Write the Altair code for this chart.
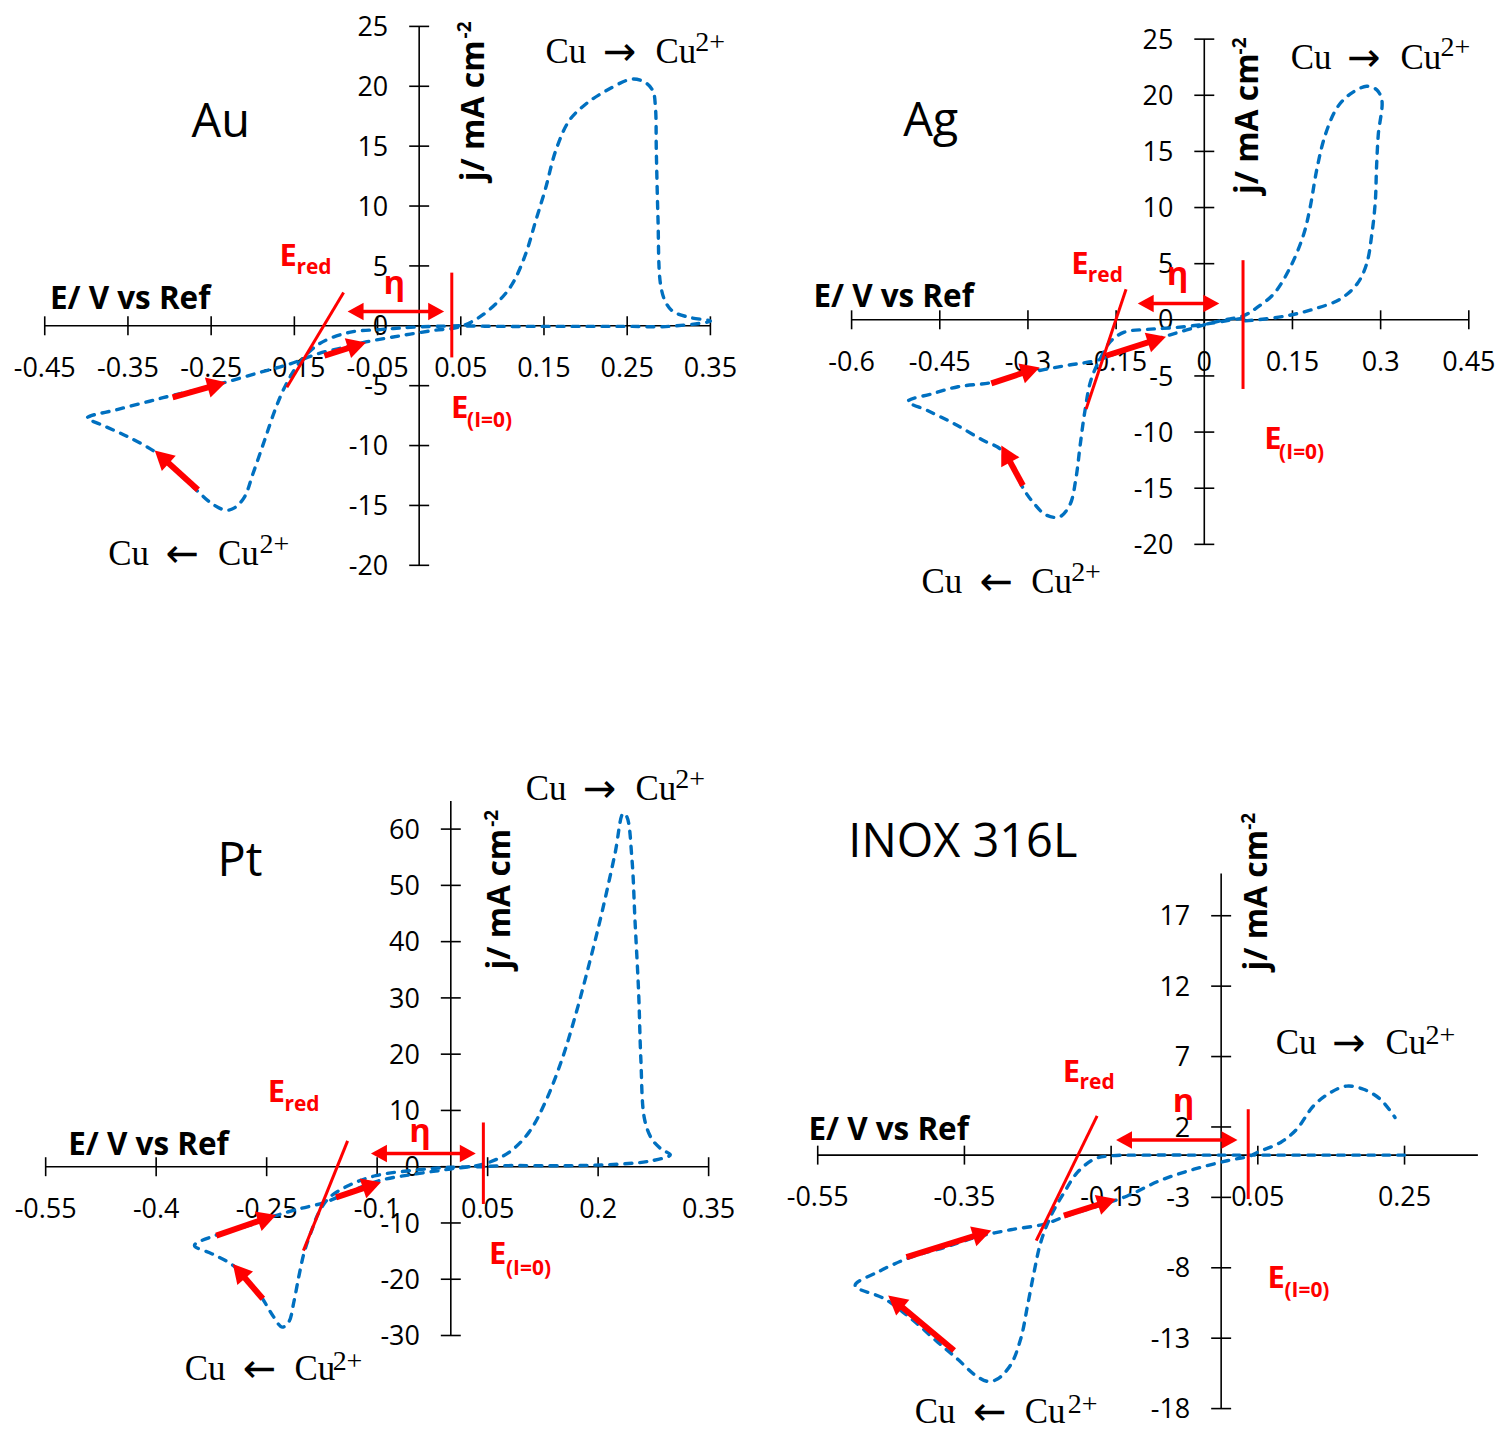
import math
import altair as alt
import pandas as pd

# ---------------- data ----------------
# Au
AU_E = [0.048, -0.004, -0.044, -0.084, -0.120, -0.144, -0.160, -0.172, -0.186, -0.200, -0.210, -0.222, -0.232, -0.248, -0.268, -0.292, -0.316, -0.352, -0.384, -0.399,
        -0.363, -0.324, -0.296, -0.264, -0.232, -0.192, -0.156, -0.120, -0.084, -0.064, -0.024, 0.016, 0.048,
        0.072, 0.096, 0.112, 0.128, 0.140, 0.152, 0.164, 0.180, 0.200, 0.224, 0.256, 0.272, 0.281, 0.284, 0.285, 0.287, 0.290, 0.296, 0.305, 0.325, 0.350,
        0.300, 0.250, 0.200, 0.150, 0.100, 0.048]
AU_J = [0.0, -0.1, -0.3, -0.55, -1.5, -3.1, -4.9, -6.8, -9.6, -12.4, -14.3, -15.2, -15.4, -14.9, -13.7, -12.1, -10.6, -9.2, -8.2, -7.7,
        -7.0, -6.3, -5.8, -5.3, -4.7, -3.9, -3.2, -2.3, -1.7, -1.35, -0.85, -0.4, -0.1,
        0.7, 2.1, 3.5, 6.0, 8.75, 11.5, 14.6, 17.1, 18.5, 19.6, 20.6, 20.3, 19.6, 18.2, 14.6, 9.0, 3.5, 2.0, 1.2, 0.7, 0.4,
        -0.05, -0.05, -0.05, -0.05, -0.05, 0.0]
# Ag
AG_E = [0.067, 0.030, 0.000, -0.051, -0.097, -0.136, -0.159, -0.176, -0.193, -0.203, -0.211, -0.218, -0.228, -0.244, -0.255, -0.272, -0.289, -0.306, -0.323, -0.340, -0.351, -0.374, -0.424, -0.470, -0.504,
        -0.464, -0.419, -0.363, -0.306, -0.238, -0.182, -0.125, -0.068, -0.030, 0.000, 0.030, 0.067, 0.090, 0.118, 0.146, 0.169, 0.180, 0.192, 0.206, 0.226, 0.248, 0.276, 0.293, 0.302, 0.296, 0.293, 0.291, 0.285, 0.276, 0.260, 0.231, 0.186, 0.141, 0.090, 0.067]
AG_J = [0.15, -0.15, -0.4, -0.7, -0.85, -1.1, -1.9, -3.35, -5.4, -8.1, -11.1, -14.0, -16.4, -17.5, -17.6, -17.3, -16.4, -15.2, -13.4, -11.9, -11.35, -10.8, -9.3, -8.1, -7.26,
        -6.6, -5.96, -5.6, -4.8, -4.1, -3.6, -2.46, -1.5, -0.9, -0.45, -0.05, 0.36, 1.1, 2.3, 4.65, 7.6, 10.0, 13.55, 16.5, 18.9, 20.1, 20.8, 20.5, 19.6, 16.5, 13.55, 10.6, 7.6, 4.95, 3.2, 1.84, 0.95, 0.36, 0.0, -0.1]
# Pt
PT_E = [0.045, 0.000, -0.048, -0.102, -0.138, -0.165, -0.179, -0.188, -0.199, -0.206, -0.213, -0.220, -0.229, -0.242, -0.256, -0.275, -0.296, -0.324, -0.348,
        -0.319, -0.274, -0.238, -0.206, -0.170, -0.138, -0.098, -0.048, 0.000, 0.045,
        0.079, 0.106, 0.128, 0.151, 0.169, 0.187, 0.205, 0.223, 0.234, 0.239, 0.246, 0.250, 0.255, 0.258, 0.263, 0.273, 0.286, 0.298,
        0.273, 0.232, 0.160, 0.070, 0.045]
PT_J = [0.0, -0.1, -0.6, -1.6, -3.3, -5.5, -8.1, -11.0, -15.2, -19.3, -24.0, -27.6, -28.5, -26.4, -23.4, -20.3, -17.5, -15.5, -14.0,
        -12.2, -10.45, -8.7, -7.5, -6.3, -4.5, -2.5, -1.3, -0.4, 0.48,
        2.55, 6.1, 11.4, 19.1, 26.8, 35.6, 45.1, 55.7, 62.8, 62.2, 54.5, 43.9, 30.9, 19.1, 8.45, 4.9, 3.1, 2.1,
        1.06, 0.48, 0.18, 0.18, 0.0]
# INOX 316L
IN_E = [0.250, 0.150, 0.050, 0.036, -0.015, -0.105, -0.151, -0.173, -0.196, -0.214, -0.232, -0.246, -0.255, -0.264, -0.273, -0.287, -0.305, -0.318, -0.336, -0.359, -0.386, -0.423, -0.459, -0.499,
        -0.468, -0.423, -0.377, -0.332, -0.287, -0.241, -0.210, -0.173, -0.128, -0.083, -0.037, 0.008, 0.040,
        0.049, 0.081, 0.103, 0.126, 0.149, 0.171, 0.194, 0.217, 0.237]
IN_J = [0.0, 0.0, 0.0, 0.0, 0.0, 0.0, -0.05, -0.28, -1.23, -2.65, -4.3, -6.2, -8.3, -10.7, -13.0, -14.9, -15.9, -16.07, -15.6, -14.5, -13.3, -11.6, -10.2, -9.26,
        -8.3, -7.25, -6.55, -5.8, -5.3, -4.9, -4.3, -3.7, -2.9, -1.8, -1.0, -0.4, -0.05,
        0.19, 0.9, 1.84, 3.5, 4.44, 4.9, 4.68, 3.97, 2.67]

# axis ticks / labels
AU_XT = [-0.45, -0.35, -0.25, -0.15, -0.05, 0.05, 0.15, 0.25, 0.35]
AU_XL = ["-0.45", "-0.35", "-0.25", "-0.15", "-0.05", "0.05", "0.15", "0.25", "0.35"]
AU_YT = [25, 20, 15, 10, 5, 0, -5, -10, -15, -20]
AG_XT = [-0.6, -0.45, -0.3, -0.15, 0.0, 0.15, 0.3, 0.45]
AG_XL = ["-0.6", "-0.45", "-0.3", "-0.15", "0", "0.15", "0.3", "0.45"]
AG_YT = [25, 20, 15, 10, 5, 0, -5, -10, -15, -20]
PT_XT = [-0.55, -0.4, -0.25, -0.1, 0.05, 0.2, 0.35]
PT_XL = ["-0.55", "-0.4", "-0.25", "-0.1", "0.05", "0.2", "0.35"]
PT_YT = [60, 50, 40, 30, 20, 10, 0, -10, -20, -30]
IN_XT = [-0.55, -0.35, -0.15, 0.05, 0.25]
IN_XL = ["-0.55", "-0.35", "-0.15", "0.05", "0.25"]
IN_YT = [17, 12, 7, 2, -3, -8, -13, -18]

# axis extents [xmin, xmax, ymin, ymax]
AU_AX = [-0.45, 0.35, -20, 25]
AG_AX = [-0.6, 0.45, -20, 25]
PT_AX = [-0.55, 0.35, -30, 65]
IN_AX = [-0.55, 0.35, -18, 20]

# annotations (data units: E, j)
AU_ERED = [-0.0908, 2.78, -0.159, -5.14]
AU_EI0 = [0.0392, 4.44, 0.0392, -2.64]
AU_ETA = [-0.086, 0.030, 1.19]
AU_ARR = [[-0.2963, -5.97, -0.2322, -4.72], [-0.1139, -2.5, -0.0639, -1.39], [-0.2659, -13.69, -0.3178, -10.42]]
AG_ERED = [-0.1331, 2.73, -0.2010, -7.94]
AG_EI0 = [0.0659, 5.31, 0.0659, -6.16]
AG_ETA = [-0.1132, 0.0255, 1.45]
AG_ARR = [[-0.3623, -5.66, -0.2801, -4.24], [-0.1671, -3.2, -0.0652, -1.51], [-0.3085, -14.76, -0.3453, -11.2]]
PT_ERED = [-0.1401, 4.59, -0.2001, -14.92]
PT_EI0 = [0.0442, 7.86, 0.0442, -6.63]
PT_ETA = [-0.1084, 0.0339, 2.36]
PT_ARR = [[-0.3184, -12.26, -0.2371, -8.58], [-0.1558, -5.45, -0.0948, -2.78], [-0.2552, -23.48, -0.2959, -17.28]]
IN_ERED = [-0.1691, 2.79, -0.2521, -6.07]
IN_EI0 = [0.0369, 3.26, 0.0369, -3.12]
IN_ETA = [-0.1433, 0.0223, 1.08]
IN_ARR = [[-0.4290, -7.25, -0.3133, -5.36], [-0.2144, -4.30, -0.1433, -3.12], [-0.3641, -13.87, -0.4539, -9.97]]

# texts: (text, E, j)
AU_TXT = {
    "title": [("Au", -0.2735, 15.75)],
    "xtitle": [("E/ V vs Ref", -0.4438, 1.42)],
    "ytitle": [("j/ mA cm", 0.078, 12.08)],
    "ysup": [("-2", 0.062, 24.0)],
    "serif": [("Cu", 0.1517, 21.94), ("Cu", 0.2839, 21.94), ("Cu", -0.3738, -20.0), ("Cu", -0.2419, -20.0)],
    "arrowc": [("→", 0.2411, 21.94), ("←", -0.2849, -20.0)],
    "serifsup": [("2+", 0.3319, 22.92), ("2+", -0.1919, -19.0)],
    "redE": [("E", -0.1679, 5.0), ("E", 0.0384, -7.67)],
    "redsub": [("red", -0.1475, 4.33), ("(I=0)", 0.0576, -8.42)],
    "eta": [("η", -0.030, 2.67)],
}
AG_TXT = {
    "title": [("Ag", -0.5122, 16.36)],
    "xtitle": [("E/ V vs Ref", -0.665, 1.16)],
    "ytitle": [("j/ mA cm", 0.091, 11.2)],
    "ysup": [("-2", 0.071, 23.64)],
    "serif": [("Cu", 0.147, 22.31), ("Cu", 0.3338, 22.31), ("Cu", -0.4811, -24.36), ("Cu", -0.2944, -24.36)],
    "arrowc": [("→", 0.2716, 22.31), ("←", -0.3538, -24.36)],
    "serifsup": [("2+", 0.4017, 23.47), ("2+", -0.2265, -23.29)],
    "redE": [("E", -0.2265, 4.09), ("E", 0.1019, -11.47)],
    "redsub": [("red", -0.1981, 3.38), ("(I=0)", 0.1273, -12.36)],
    "eta": [("η", -0.0453, 3.11)],
}
PT_TXT = {
    "title": [("Pt", -0.3166, 51.7)],
    "xtitle": [("E/ V vs Ref", -0.5194, 2.06)],
    "ytitle": [("j/ mA cm", 0.0803, 35.05)],
    "ysup": [("-2", 0.064, 60.4)],
    "serif": [("Cu", 0.1016, 65.2), ("Cu", 0.2506, 65.2), ("Cu", -0.3613, -37.85), ("Cu", -0.2123, -37.85)],
    "arrowc": [("→", 0.2020, 65.2), ("←", -0.2597, -37.85)],
    "serifsup": [("2+", 0.3048, 67.3), ("2+", -0.1604, -36.08)],
    "redE": [("E", -0.2485, 11.46), ("E", 0.0519, -17.28)],
    "redsub": [("red", -0.2258, 9.86), ("(I=0)", 0.0749, -19.23)],
    "eta": [("η", -0.0416, 4.36)],
}
IN_TXT = {
    "title": [("INOX 316L", -0.5083, 21.19)],
    "xtitle": [("E/ V vs Ref", -0.5627, 1.06)],
    "ytitle": [("j/ mA cm", 0.0631, 13.11)],
    "ysup": [("-2", 0.0468, 23.1)],
    "serif": [("Cu", 0.0744, 7.16), ("Cu", 0.2241, 7.16), ("Cu", -0.4176, -18.99), ("Cu", -0.2679, -18.99)],
    "arrowc": [("→", 0.1743, 7.16), ("←", -0.3155, -18.99)],
    "serifsup": [("2+", 0.2785, 7.87), ("2+", -0.2090, -18.28)],
    "redE": [("E", -0.2158, 5.17), ("E", 0.0631, -9.43)],
    "redsub": [("red", -0.1931, 4.68), ("(I=0)", 0.0862, -10.06)],
    "eta": [("η", -0.0512, 3.05)],
}

# ---------------- styling / layout ----------------
BLUE = "#0070C0"
RED = "#FF0000"
SANS = "Open Sans"
SERIF = "Liberation Serif"
PANEL_W = 744
TOP_H = 690
BOT_H = 730
HEAD = "M0,0L-0.6,1.1L0.6,1.1Z"

TEXT_STYLE = {
    "title": dict(font=SANS, fontSize=47, fontWeight="normal", color="black", align="left"),
    "xtitle": dict(font=SANS, fontSize=31.5, fontWeight="bold", color="black", align="left"),
    "ytitle": dict(font=SANS, fontSize=32, fontWeight="bold", color="black", align="left", angle=270),
    "ysup": dict(font=SANS, fontSize=19, fontWeight="bold", color="black", align="left", angle=270),
    "serif": dict(font=SERIF, fontSize=35, color="black", align="left"),
    "arrowc": dict(font="DejaVu Sans", fontSize=40, color="black", align="center", dy=2),
    "serifsup": dict(font=SERIF, fontSize=28, color="black", align="left"),
    "redE": dict(font=SANS, fontSize=31, fontWeight="bold", color=RED, align="left"),
    "redsub": dict(font=SANS, fontSize=21, fontWeight="bold", color=RED, align="left"),
    "eta": dict(font=SANS, fontSize=33, fontWeight="bold", color=RED, align="center"),
}


def panel(E, J, XT, XL, YT, AX, ERED, EI0, ETA, ARR, TXT, H, x0, kx, y0, ky):
    W = PANEL_W
    xs = alt.Scale(domain=[-x0 / kx, (W - x0) / kx], nice=False, zero=False)
    ys = alt.Scale(domain=[(y0 - H) / ky, y0 / ky], nice=False, zero=False)
    X = alt.X("x:Q", scale=xs, axis=None)
    Y = alt.Y("y:Q", scale=ys, axis=None)
    X2 = alt.X2("x2:Q")
    Y2 = alt.Y2("y2:Q")

    def base(df):
        return alt.Chart(pd.DataFrame(df)).properties(width=W, height=H)

    layers = []
    # axis lines
    layers.append(base({"x": [AX[0], 0.0], "x2": [AX[1], 0.0], "y": [0.0, AX[2]], "y2": [0.0, AX[3]]})
                  .mark_rule(color="black", strokeWidth=1.6).encode(x=X, x2=X2, y=Y, y2=Y2))
    # ticks
    layers.append(base({"x": XT, "y": [0.0] * len(XT)})
                  .mark_tick(orient="vertical", size=19, thickness=1.6, color="black", opacity=1)
                  .encode(x=X, y=Y))
    layers.append(base({"x": [0.0] * len(YT), "y": YT})
                  .mark_tick(orient="horizontal", size=20, thickness=1.6, color="black", opacity=1)
                  .encode(x=X, y=Y))
    # tick labels
    layers.append(base({"x": XT, "y": [0.0] * len(XT), "t": XL})
                  .mark_text(font=SANS, fontSize=27, color="black", align="center", baseline="alphabetic", dy=51)
                  .encode(x=X, y=Y, text="t:N"))
    layers.append(base({"x": [0.0] * len(YT), "y": YT, "t": [str(v) for v in YT]})
                  .mark_text(font=SANS, fontSize=27, color="black", align="right", baseline="alphabetic", dx=-31, dy=9.7)
                  .encode(x=X, y=Y, text="t:N"))
    # curve
    layers.append(base({"x": E, "y": J, "i": list(range(len(E)))})
                  .mark_line(color=BLUE, strokeWidth=3.4, strokeDash=[7, 8], strokeCap="round",
                             interpolate="catmull-rom")
                  .encode(x=X, y=Y, order="i:Q"))
    # red straight lines (E_red tangent, E(I=0) marker)
    layers.append(base({"x": [ERED[0], EI0[0]], "y": [ERED[1], EI0[1]], "x2": [ERED[2], EI0[2]], "y2": [ERED[3], EI0[3]]})
                  .mark_rule(color=RED, strokeWidth=3).encode(x=X, y=Y, x2=X2, y2=Y2))

    # arrows
    def arrow_parts(tail_e, tail_j, tip_e, tip_j, L):
        dxp = (tip_e - tail_e) * kx
        dyp = -(tip_j - tail_j) * ky
        n = math.hypot(dxp, dyp)
        ux, uy = dxp / n, dyp / n
        back = 0.6 * L
        se = tip_e - ux * back / kx
        sj = tip_j + uy * back / ky
        ang = math.degrees(math.atan2(dxp, -dyp)) % 360
        return dict(x=tail_e, y=tail_j, x2=se, y2=sj), dict(x=tip_e, y=tip_j, ang=ang, sz=(2 * L / 1.1) ** 2)

    shafts, heads = [], []
    for a in ARR:
        s, h = arrow_parts(a[0], a[1], a[2], a[3], 19)
        shafts.append(s)
        heads.append(h)
    layers.append(alt.Chart(pd.DataFrame(shafts)).properties(width=W, height=H)
                  .mark_rule(color=RED, strokeWidth=6).encode(x=X, y=Y, x2=X2, y2=Y2))
    # eta double arrow
    s1, h1 = arrow_parts(ETA[1], ETA[2], ETA[0], ETA[2], 16)
    s2, h2 = arrow_parts(ETA[0], ETA[2], ETA[1], ETA[2], 16)
    eta_shaft = dict(x=s1["x2"], y=ETA[2], x2=s2["x2"], y2=ETA[2])
    layers.append(alt.Chart(pd.DataFrame([eta_shaft])).properties(width=W, height=H)
                  .mark_rule(color=RED, strokeWidth=3.5).encode(x=X, y=Y, x2=X2, y2=Y2))
    heads += [h1, h2]
    layers.append(alt.Chart(pd.DataFrame(heads)).properties(width=W, height=H)
                  .mark_point(shape=HEAD, filled=True, color=RED, opacity=1, strokeWidth=0)
                  .encode(x=X, y=Y, angle=alt.Angle("ang:Q", scale=None), size=alt.Size("sz:Q", scale=None)))

    # texts
    for kind, rows in TXT.items():
        df = {"t": [r[0] for r in rows], "x": [r[1] for r in rows], "y": [r[2] for r in rows]}
        layers.append(base(df).mark_text(baseline="alphabetic", **TEXT_STYLE[kind]).encode(x=X, y=Y, text="t:N"))

    return alt.layer(*layers).properties(width=W, height=H)


au = panel(AU_E, AU_J, AU_XT, AU_XL, AU_YT, AU_AX, AU_ERED, AU_EI0, AU_ETA, AU_ARR, AU_TXT,
           TOP_H, 412.0, 833.75, 317.0, 12.0)
ag = panel(AG_E, AG_J, AG_XT, AG_XL, AG_YT, AG_AX, AG_ERED, AG_EI0, AG_ETA, AG_ARR, AG_TXT,
           TOP_H, 454.7, 589.0, 311.0, 11.25)
pt = panel(PT_E, PT_J, PT_XT, PT_XL, PT_YT, PT_AX, PT_ERED, PT_EI0, PT_ETA, PT_ARR, PT_TXT,
           BOT_H, 443.7, 738.1, 1167.6 - 8 - TOP_H, 5.638)
inox = panel(IN_E, IN_J, IN_XT, IN_XL, IN_YT, IN_AX, IN_ERED, IN_EI0, IN_ETA, IN_ARR, IN_TXT,
             BOT_H, 471.6, 735.0, 1156.0 - 8 - TOP_H, 14.11)

top = alt.hconcat(au, ag, spacing=0)
bot = alt.hconcat(pt, inox, spacing=0)
chart = (alt.vconcat(top, bot, spacing=0)
         .properties(padding=0, background="white")
         .configure_view(stroke=None))

chart.save("out.html", embed_options={"renderer": "svg", "actions": False})
